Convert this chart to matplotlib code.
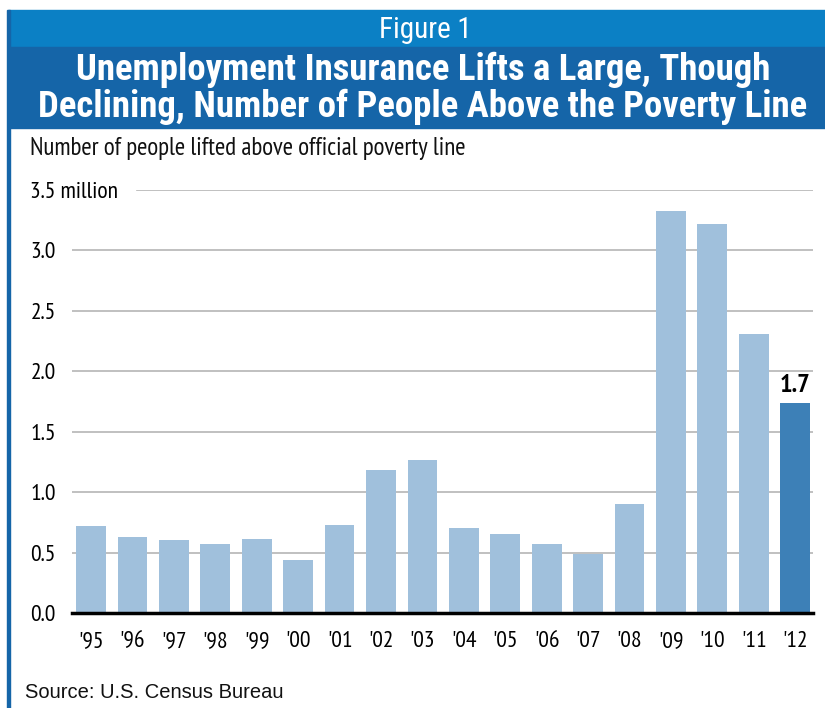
import matplotlib
matplotlib.use('Agg')
import matplotlib.pyplot as plt
from matplotlib.patches import Rectangle

years = ["'95", "'96", "'97", "'98", "'99", "'00", "'01", "'02", "'03",
         "'04", "'05", "'06", "'07", "'08", "'09", "'10", "'11", "'12"]
lifted = [0.72, 0.63, 0.60, 0.57, 0.61, 0.44, 0.73, 1.18, 1.27,
          0.70, 0.65, 0.57, 0.49, 0.90, 3.33, 3.22, 2.31, 1.74]
y_ticks = [0.0, 0.5, 1.0, 1.5, 2.0, 2.5, 3.0, 3.5]
y_labels = ['0.0', '0.5', '1.0', '1.5', '2.0', '2.5', '3.0', '3.5 million']

LIGHT = '#a0c0dc'
DARK = '#3d80b7'
BAND1 = '#0b80c5'
BAND2 = '#1565a8'
NARROW = ['PT Sans Narrow', 'Roboto Condensed', 'Archivo Narrow', 'DejaVu Sans']
TITLE = ['Roboto Condensed', 'Archivo Narrow', 'DejaVu Sans']

W, H = 825, 708
fig = plt.figure(figsize=(W / 100, H / 100), dpi=100)

def px(x0, y0, w, h):
    # pixel box (top-left origin) -> figure fraction rect
    return (x0 / W, 1 - (y0 + h) / H, w / W, h / H)

def band(x0, y0, w, h, color):
    r = px(x0, y0, w, h)
    fig.patches.append(Rectangle(r[:2], r[2], r[3], transform=fig.transFigure,
                                 color=color, zorder=0))

# header bands and left border
band(8, 10, 817, 37, BAND1)
band(8, 47, 817, 81, BAND2)
band(7, 10, 2.5, 698, BAND2)

fig.text(425 / W, 1 - 30 / H, 'Figure 1', color='white', fontsize=21,
         ha='center', va='center', family=TITLE)
fig.text(423 / W, 1 - 70 / H, 'Unemployment Insurance Lifts a Large, Though',
         color='white', fontsize=26.5, fontweight='semibold', ha='center', va='center', family=TITLE)
fig.text(423 / W, 1 - 107 / H, 'Declining, Number of People Above the Poverty Line',
         color='white', fontsize=26.5, fontweight='semibold', ha='center', va='center', family=TITLE)
fig.text(30 / W, 1 - 148 / H, 'Number of people lifted above official poverty line',
         fontsize=18, ha='left', va='center', family=NARROW, color='#111111')
fig.text(25 / W, 1 - 692 / H, 'Source: U.S. Census Bureau',
         fontsize=14.5, ha='left', va='center', color='#111111',
         family=['Liberation Sans', 'DejaVu Sans'])

ax = fig.add_axes(px(72, 190, 741, 423))
x = list(range(len(years)))
colors = [LIGHT] * (len(years) - 1) + [DARK]
ax.bar(x, lifted, width=0.72, color=colors, zorder=2)
ax.text(x[-1], lifted[-1] + 0.05, '1.7', ha='center', va='bottom',
        fontsize=19, fontweight='bold', family=NARROW)

for t in y_ticks[1:-1]:
    ax.axhline(t, color='#b5b5b5', lw=1.2, zorder=1)
ax.axhline(y_ticks[-1], xmin=(137 - 72) / 741, color='#b5b5b5', lw=1.2, zorder=1)

ax.set_xlim(-0.46, len(years) - 1 + 0.43)
ax.set_ylim(0, 3.5)
ax.set_xticks(x)
ax.set_xticklabels(years, fontsize=17, family=NARROW)
ax.set_yticks(y_ticks)
ax.set_yticklabels(y_labels, fontsize=17, family=NARROW, ha='left')
ax.tick_params(axis='y', length=0, pad=30)
ax.tick_params(axis='x', length=0, pad=13)
for s in ['top', 'right', 'left']:
    ax.spines[s].set_visible(False)
ax.spines['bottom'].set_linewidth(2.5)
ax.spines['bottom'].set_zorder(3)

fig.savefig('out.png', dpi=100)
